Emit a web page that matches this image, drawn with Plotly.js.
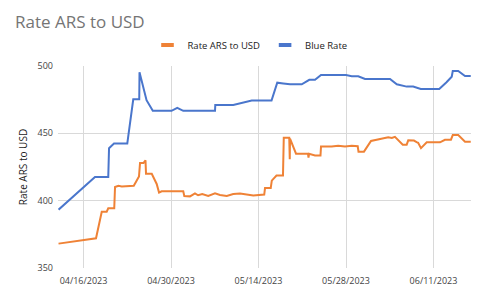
<!DOCTYPE html>
<html>
<head>
<meta charset="utf-8">
<script src="https://cdn.plot.ly/plotly-3.0.1.min.js"></script>
<style>html,body{margin:0;padding:0;background:#fff;}#chart{width:486px;height:300px;}</style>
</head>
<body>
<div id="chart"></div>
<script>
var arsDates = ['2023-04-12 00:00','2023-04-18 00:00','2023-04-18 22:00','2023-04-19 17:00','2023-04-19 23:00','2023-04-20 22:00','2023-04-21 01:00','2023-04-21 14:00','2023-04-22 03:00','2023-04-24 01:00','2023-04-24 21:00','2023-04-25 01:00','2023-04-25 14:00','2023-04-25 22:00','2023-04-26 00:00','2023-04-26 22:00','2023-04-27 17:00','2023-04-28 02:00','2023-04-28 12:00','2023-05-01 23:00','2023-05-02 03:00','2023-05-03 01:00','2023-05-03 20:00','2023-05-04 08:00','2023-05-05 00:00','2023-05-05 12:00','2023-05-05 23:00','2023-05-07 01:00','2023-05-07 20:00','2023-05-08 22:00','2023-05-09 23:00','2023-05-11 01:00','2023-05-13 04:00','2023-05-14 22:00','2023-05-15 01:00','2023-05-15 23:00','2023-05-16 03:00','2023-05-16 21:00','2023-05-17 22:00','2023-05-18 01:00','2023-05-18 22:00','2023-05-19 00:00','2023-05-19 01:00','2023-05-20 00:00','2023-05-21 22:00','2023-05-22 00:00','2023-05-22 02:00','2023-05-23 01:00','2023-05-23 22:00','2023-05-24 00:00','2023-05-25 17:00','2023-05-26 18:00','2023-05-27 20:00','2023-05-28 22:00','2023-05-29 21:00','2023-05-30 00:00','2023-05-30 21:00','2023-06-01 00:00','2023-06-02 14:00','2023-06-03 18:00','2023-06-04 08:00','2023-06-04 20:00','2023-06-06 02:00','2023-06-06 17:00','2023-06-06 23:00','2023-06-07 21:00','2023-06-08 07:00','2023-06-08 13:00','2023-06-09 00:00','2023-06-09 22:00','2023-06-12 01:00','2023-06-12 20:00','2023-06-13 19:00','2023-06-14 02:00','2023-06-14 23:00','2023-06-16 01:00','2023-06-16 23:00'];
var arsValues = [368.1,372.1,391.8,391.8,394.3,394.3,410.1,411,410.6,411,418,427.9,427.9,429.9,420,420,412.4,406,407,407,403.5,403.2,405.4,404,405,404.5,403.5,405.4,404.2,403.5,404.9,405.4,403.9,404.5,409.4,409.4,414.9,418.6,418.6,446.7,446.7,430.8,446,434.9,434.9,432,434.8,433.6,433.6,440.3,440.2,440.8,440.2,440.8,440.4,436.4,436.4,444.3,446,447.1,446.5,447.4,441.6,441.6,444.8,444.6,443.5,443,439,443.3,443.3,445.2,445.3,448.7,448.7,443.8,443.8];

var blueDates = ['2023-04-12 00:00','2023-04-17 20:00','2023-04-19 23:00','2023-04-20 02:00','2023-04-20 21:00','2023-04-23 00:00','2023-04-23 23:00','2023-04-24 22:00','2023-04-24 23:00','2023-04-26 02:00','2023-04-27 02:00','2023-04-30 02:00','2023-05-01 00:00','2023-05-01 23:00','2023-05-07 01:00','2023-05-07 02:00','2023-05-09 23:00','2023-05-12 22:00','2023-05-16 02:00','2023-05-17 00:00','2023-05-17 23:00','2023-05-19 01:00','2023-05-20 22:00','2023-05-22 03:00','2023-05-23 01:00','2023-05-24 00:00','2023-05-28 00:00','2023-05-28 22:00','2023-05-29 23:00','2023-05-31 01:00','2023-06-04 01:00','2023-06-05 03:00','2023-06-06 17:00','2023-06-07 18:00','2023-06-08 23:00','2023-06-11 22:00','2023-06-13 02:00','2023-06-13 22:00','2023-06-14 02:00','2023-06-14 23:00','2023-06-16 01:00','2023-06-16 23:00'];
var blueValues = [393.3,417.6,417.6,439,442.4,442.4,475.3,475.3,495.3,474.6,466.7,466.7,468.9,466.7,466.7,471,471,474.3,474.3,487.6,487,486.4,486.4,489.7,489.7,493.3,493.3,492.4,492.4,490.4,490.4,486.4,484.7,484.7,482.9,482.9,487.9,492,496.3,496.3,492.6,492.6];

var seriesNames = ['Rate ARS to USD','Blue Rate'];
var seriesColors = ['#ef8236','#4a76cc'];
var yTicks = [350,400,450,500];

var traces = [
  {x: arsDates, y: arsValues, mode:'lines', name: seriesNames[0], showlegend:false,
   line:{color:seriesColors[0], width:2}},
  {x: blueDates, y: blueValues, mode:'lines', name: seriesNames[1], showlegend:false,
   line:{color:seriesColors[1], width:2}},
  {x:[null], y:[null], mode:'markers', name: seriesNames[0],
   marker:{symbol:'line-ew', size:9, line:{width:4, color:seriesColors[0]}}},
  {x:[null], y:[null], mode:'markers', name: seriesNames[1],
   marker:{symbol:'line-ew', size:9, line:{width:4, color:seriesColors[1]}}}
];

var layout = {
  width:486, height:300,
  margin:{l:58, r:15, t:66, b:32, pad:0},
  paper_bgcolor:'#fff', plot_bgcolor:'#fff',
  font:{family:'"Open Sans", sans-serif', size:9, color:'#444'},
  title:{text:'Rate ARS to USD', font:{family:'"Open Sans", sans-serif', size:17, color:'#757575'},
         xref:'container', x:15/486, xanchor:'left', yref:'container', y:1-22/300, yanchor:'middle'},
  showlegend:true,
  legend:{orientation:'h', xref:'container', x:0.5+7/486, xanchor:'center', yref:'container', y:1-45/300, yanchor:'middle',
          font:{family:'"Open Sans", sans-serif', size:9.5, color:'#222'}, itemwidth:30, tracegroupgap:0, bgcolor:'rgba(0,0,0,0)'},
  xaxis:{type:'date', range:['2023-04-11 22:00','2023-06-17 00:00'],
         tick0:'2023-04-16', dtick:14*86400000, tickformat:'%m/%d/%Y',
         showgrid:true, gridcolor:'#d9d9d9', gridwidth:1, zeroline:false, showline:false,
         ticks:'', tickfont:{size:9, color:'#444'}, ticklabelstandoff:6},
  yaxis:{range:[350,500], tickvals:yTicks, ticktext:yTicks.map(String),
         showgrid:true, gridcolor:'#d9d9d9', gridwidth:1, zeroline:false, showline:false,
         ticks:'', tickfont:{size:9, color:'#444'}, ticklabelstandoff:4,
         title:{text:'Rate ARS to USD', font:{size:10, color:'#222'}, standoff:8}}
};

Plotly.newPlot('chart', traces, layout, {displayModeBar:false, staticPlot:true});
</script>
</body>
</html>
